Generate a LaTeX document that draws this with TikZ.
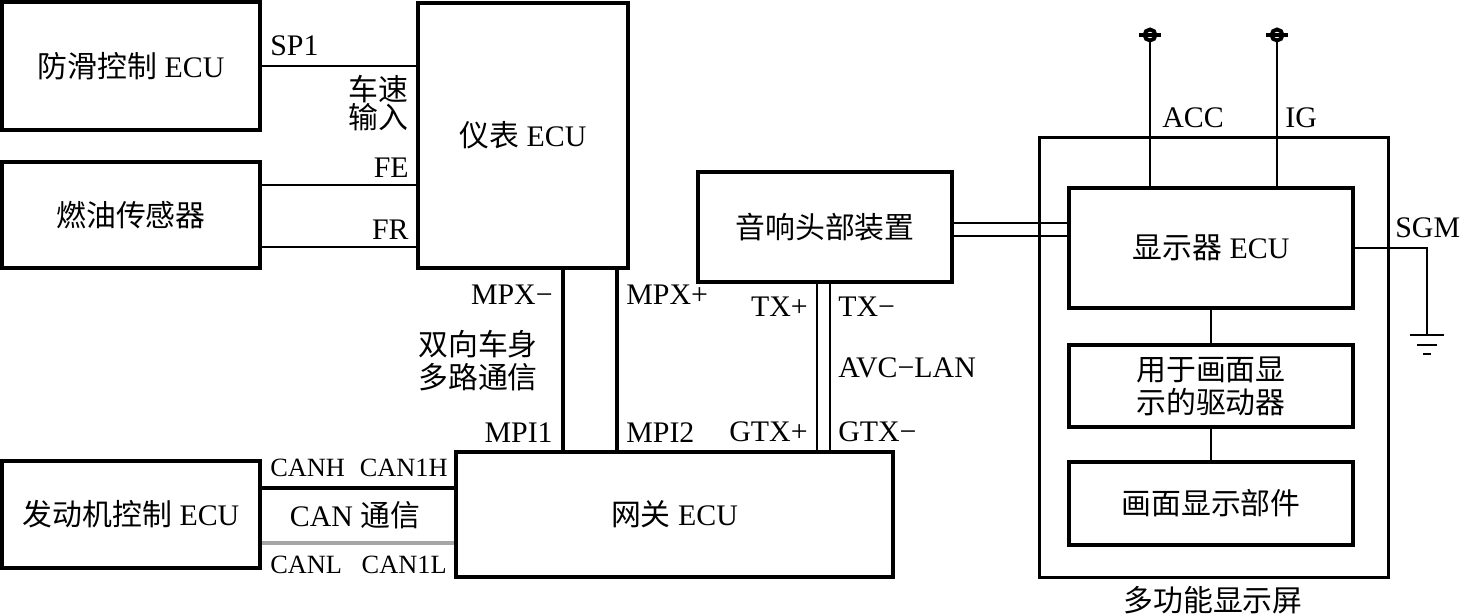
\documentclass[tikz,border=0pt]{standalone}
\usepackage{fontspec}
\setmainfont{Liberation Serif}
\newfontfamily\cjk{Noto Sans CJK SC}
\newcommand{\zh}[1]{{\cjk #1}}
\usetikzlibrary{calc}
\tikzset{
  box/.style={draw,line width=2.2pt,inner sep=0pt},
  wire/.style={line width=1.1pt},
  bus/.style={line width=2.6pt},
  lbl/.style={inner sep=0pt},
  canpin/.style={lbl,font=\fontsize{15}{18}\selectfont},
}

\begin{document}
\begin{tikzpicture}[x=0.02cm,y=-0.02cm,font=\fontsize{17}{18.7}\selectfont]
\useasboundingbox (0,0) rectangle (1462,614);
\node[box,minimum width=5.16cm,minimum height=2.56cm] (abs) at (131,66) {\zh{防滑控制} ECU};
\node[box,minimum width=5.16cm,minimum height=2.12cm] (fuel) at (131,215) {\zh{燃油传感器}};
\node[box,minimum width=4.2cm,minimum height=5.3cm] (meter) at (523,135.5) {\zh{仪表} ECU};
\node[box,minimum width=5.16cm,minimum height=2.14cm] (eng) at (131,514.5) {\zh{发动机控制} ECU};
\node[box,minimum width=8.74cm,minimum height=2.5cm] (gw) at (674.5,514.5) {\zh{网关} ECU};
\node[box,minimum width=5.08cm,minimum height=2.2cm] (audio) at (825,227) {\zh{音响头部装置}};
\node[draw,line width=1.7pt,minimum width=7cm,minimum height=8.82cm] (mfd) at (1214,357.5) {};
\node[box,minimum width=5.68cm,minimum height=2.4cm] (disp) at (1211,248) {\zh{显示器} ECU};
\node[box,minimum width=5.68cm,minimum height=1.64cm,align=center] (drv) at (1211,386) {\zh{用于画面显}\\\zh{示的驱动器}};
\node[box,minimum width=5.68cm,minimum height=1.66cm] (panel) at (1211,503.5) {\zh{画面显示部件}};
\node[lbl] (mfdlbl) at (1213,600) {\zh{多功能显示屏}};

\coordinate (fe) at (0,185);
\coordinate (fr) at (0,247);
\coordinate (mpxn) at (563,0);
\coordinate (mpxp) at (617,0);
\coordinate (txp) at (817,0);
\coordinate (txn) at (830,0);
\coordinate (ha) at (0,223);
\coordinate (hb) at (0,236);
\coordinate (canh) at (0,488);
\coordinate (canl) at (0,543);
\coordinate (acc) at (1150,35);
\coordinate (ig) at (1277,35);
\coordinate (gnd) at (1427,335);

\draw[wire] (abs.east) -- (abs.east -| meter.west);
\draw[wire] (fe -| fuel.east) -- (fe -| meter.west);
\draw[wire] (fr -| fuel.east) -- (fr -| meter.west);
\draw[bus] (mpxn |- meter.south) -- (mpxn |- gw.north);
\draw[bus] (mpxp |- meter.south) -- (mpxp |- gw.north);
\draw[wire] (txp |- audio.south) -- (txp |- gw.north);
\draw[wire] (txn |- audio.south) -- (txn |- gw.north);
\draw[wire] (ha -| audio.east) -- (ha -| disp.west);
\draw[wire] (hb -| audio.east) -- (hb -| disp.west);
\draw[bus] (canh -| eng.east) -- (canh -| gw.west);
\draw[bus,gray!70] (canl -| eng.east) -- (canl -| gw.west);
\draw[wire] (disp.south) -- (drv.north);
\draw[wire] (drv.south) -- (panel.north);
\foreach \t in {acc,ig} {
  \draw[wire] ($(\t)+(0,5.5)$) -- (\t |- disp.north);
  \draw[line width=2.2pt] (\t) circle (0.11cm);
  \draw[line width=2pt] ($(\t)+(-11,0)$) -- ($(\t)+(11,0)$);
}
\draw[wire] (disp.east) -- (gnd |- disp.east) -- (gnd);
\draw[wire] ($(gnd)+(-17,0)$) -- ($(gnd)+(17,0)$);
\draw[wire] ($(gnd)+(-10,10)$) -- ($(gnd)+(10,10)$);
\draw[wire] ($(gnd)+(-4,19)$) -- ($(gnd)+(4,19)$);

\node[lbl,anchor=west] (sp1) at (270,46) {SP1};
\node[lbl,anchor=east,align=right] (spd) at (409,103) {\zh{车速}\\[-3pt]\zh{输入}};
\node[lbl,anchor=east] (felbl) at (409,168) {FE};
\node[lbl,anchor=east] (frlbl) at (409,230) {FR};
\node[lbl,anchor=east] (mpxnlbl) at (553,295) {MPX−};
\node[lbl,anchor=west] (mpxplbl) at (626,295) {MPX+};
\node[lbl,align=center] (mux) at (478,361) {\zh{双向车身}\\\zh{多路通信}};
\node[lbl,anchor=east] (mpi1) at (553,433) {MPI1};
\node[lbl,anchor=west] (mpi2) at (626,433) {MPI2};
\node[lbl,anchor=east] (txplbl) at (808,307) {TX+};
\node[lbl,anchor=west] (txnlbl) at (838,307) {TX−};
\node[lbl,anchor=west] (avc) at (838,368) {AVC−LAN};
\node[lbl,anchor=east] (gtxp) at (808,432) {GTX+};
\node[lbl,anchor=west] (gtxn) at (838,432) {GTX−};
\node[canpin,anchor=west] (canhlbl) at (270,468) {CANH};
\node[canpin,anchor=east] (can1h) at (448,468) {CAN1H};
\node[lbl] (canlbl) at (355,515) {CAN \zh{通信}};
\node[canpin,anchor=west] (canllbl) at (270,565) {CANL};
\node[canpin,anchor=east] (can1l) at (447,565) {CAN1L};
\node[lbl,anchor=west] (acclbl) at (1162,118) {ACC};
\node[lbl,anchor=west] (iglbl) at (1285,118) {IG};
\node[lbl,anchor=west] (sgm) at (1395,228) {SGM};
\end{tikzpicture}
\end{document}
